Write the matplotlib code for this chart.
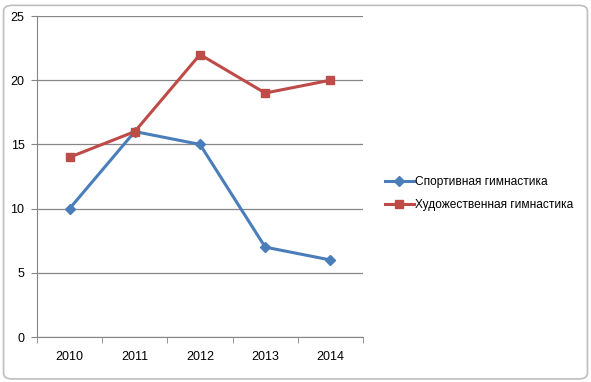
import matplotlib.pyplot as plt
from matplotlib.patches import FancyBboxPatch

years = ["2010", "2011", "2012", "2013", "2014"]
sport = [10, 16, 15, 7, 6]
art = [14, 16, 22, 19, 20]
sport_name = "Спортивная гимнастика"
art_name = "Художественная гимнастика"

plt.rcParams['font.family'] = ['Liberation Sans', 'DejaVu Sans']

fig = plt.figure(figsize=(5.91, 3.82), dpi=100)
fig.patches.append(FancyBboxPatch((0.006, 0.008), 0.988, 0.978,
                                  boxstyle="round,pad=0,rounding_size=0.015",
                                  transform=fig.transFigure, fill=False,
                                  edgecolor="#bfbfbf", linewidth=1.2))

ax = fig.add_axes([0.0626, 0.1178, 0.5516, 0.8403])
x = list(range(len(years)))
ax.plot(x, sport, color="#4A7EBB", lw=2.2, marker="D", ms=5, label=sport_name)
ax.plot(x, art, color="#BE4B48", lw=2.2, marker="s", ms=6, label=art_name)

ax.set_xlim(-0.5, len(years) - 0.5)
ax.set_ylim(0, 25)
ax.set_yticks(range(0, 26, 5))
ax.set_xticks(x)
ax.set_xticklabels(years)
ax.set_xticks([i - 0.5 for i in range(len(years) + 1)], minor=True)
ax.yaxis.grid(True, color="#868686", lw=0.9)
ax.set_axisbelow(True)
for s in ["top", "right"]:
    ax.spines[s].set_visible(False)
for s in ["left", "bottom"]:
    ax.spines[s].set_color("#868686")
ax.tick_params(axis="y", length=4, color="#868686", labelsize=9, pad=5)
ax.tick_params(axis="x", which="major", length=0, labelsize=9, pad=10)
ax.tick_params(axis="x", which="minor", length=4, color="#868686")

fig.legend(loc="center left", bbox_to_anchor=(0.633, 0.493), frameon=False,
           fontsize=8.6, handlelength=2.4, handletextpad=0.1, labelspacing=0.95)

plt.savefig("out.png", dpi=100)
